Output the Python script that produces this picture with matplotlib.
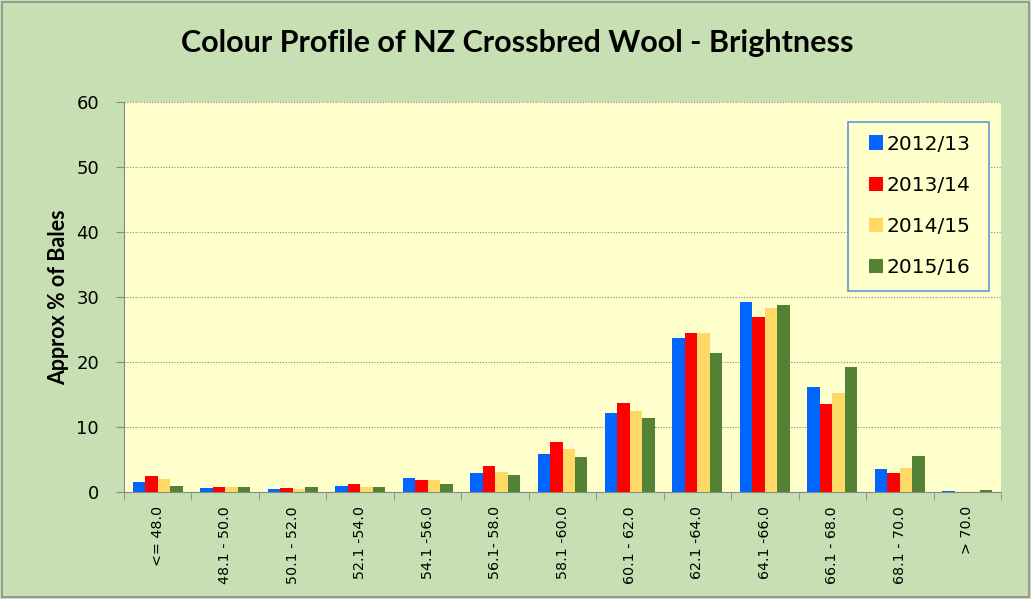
import matplotlib.pyplot as plt
import numpy as np
from matplotlib.patches import Rectangle

categories = ["<= 48.0", "48.1 - 50.0", "50.1 - 52.0", "52.1 -54.0", "54.1 -56.0",
              "56.1- 58.0", "58.1 -60.0", "60.1 - 62.0", "62.1 -64.0", "64.1 -66.0",
              "66.1 - 68.0", "68.1 - 70.0", "> 70.0"]
s2012 = [1.5, 0.6, 0.5, 0.9, 2.1, 2.9, 5.9, 12.1, 23.7, 29.3, 16.1, 3.5, 0.15]
s2013 = [2.5, 0.8, 0.6, 1.2, 1.9, 4.0, 7.7, 13.7, 24.4, 27.0, 13.6, 3.0, 0.05]
s2014 = [2.0, 0.8, 0.45, 0.7, 1.9, 3.1, 6.6, 12.4, 24.4, 28.3, 15.2, 3.7, 0.05]
s2015 = [1.0, 0.8, 0.7, 0.7, 1.3, 2.6, 5.4, 11.4, 21.4, 28.7, 19.3, 5.6, 0.3]
series = {"2012/13": s2012, "2013/14": s2013, "2014/15": s2014, "2015/16": s2015}
colors = ["#0066FF", "#FF0000", "#FFD966", "#548235"]

plt.rcParams['font.family'] = ['DejaVu Sans']

fig = plt.figure(figsize=(10.31, 5.99), dpi=100, facecolor="#C6E0B4")
ax = fig.add_axes([0.1203, 0.1786, 0.8506, 0.651])
ax.set_facecolor("#FFFFCC")

x = np.arange(len(categories))
w = 0.185
for i, (name, vals) in enumerate(series.items()):
    ax.bar(x + (i - 1.5) * w, vals, width=w, color=colors[i], label=name, zorder=3)

ax.set_ylim(0, 60)
ax.set_xlim(-0.5, len(categories) - 0.5)
ax.set_yticks(range(0, 61, 10))
ax.yaxis.grid(True, linestyle=(0, (1, 1.5)), color="#888888", linewidth=0.8, zorder=0)
ax.set_xticks(x)
ax.set_xticklabels(categories, rotation=90, fontsize=10.3, ha="right", va="center",
                   rotation_mode="anchor")
ax.set_xticks(np.arange(-0.5, len(categories), 1), minor=True)
ax.tick_params(axis="x", which="major", length=0, pad=10)
ax.tick_params(axis="x", which="minor", length=6, color="#888888", direction="out")
ax.tick_params(axis="y", labelsize=13, length=6, color="#888888", pad=12)
for side in ["top", "right"]:
    ax.spines[side].set_visible(False)
for side in ["left", "bottom"]:
    ax.spines[side].set_color("#888888")

ax.set_ylabel("Approx % of Bales", fontsize=15.5, fontweight="bold", labelpad=5,
              family=["Lato", "DejaVu Sans"])
fig.text(0.502, 0.928, "Colour Profile of NZ Crossbred Wool - Brightness",
         ha="center", va="center", fontsize=22, fontweight="bold",
         family=["Lato", "DejaVu Sans"])

# legend box drawn separately so the side padding can differ from the top padding
ax.add_patch(Rectangle((0.8255, 0.5154), 0.1608, 0.4333, transform=ax.transAxes,
                       facecolor="#FFFFCC", edgecolor="#5B9BD5", linewidth=1.2,
                       zorder=4, clip_on=False))
leg = ax.legend(loc="center left", bbox_to_anchor=(0.8495, 0.7341), fontsize=14.5,
                frameon=False, handlelength=0.7, handleheight=0.7,
                labelspacing=1.1, borderpad=0, handletextpad=0.15, borderaxespad=0)
leg.set_zorder(5)

fig.patches.append(Rectangle((0.002, 0.003), 0.996, 0.994, transform=fig.transFigure,
                             fill=False, edgecolor="#8C8C8C", linewidth=1.2))

fig.savefig("out.png", dpi=100, facecolor=fig.get_facecolor())
